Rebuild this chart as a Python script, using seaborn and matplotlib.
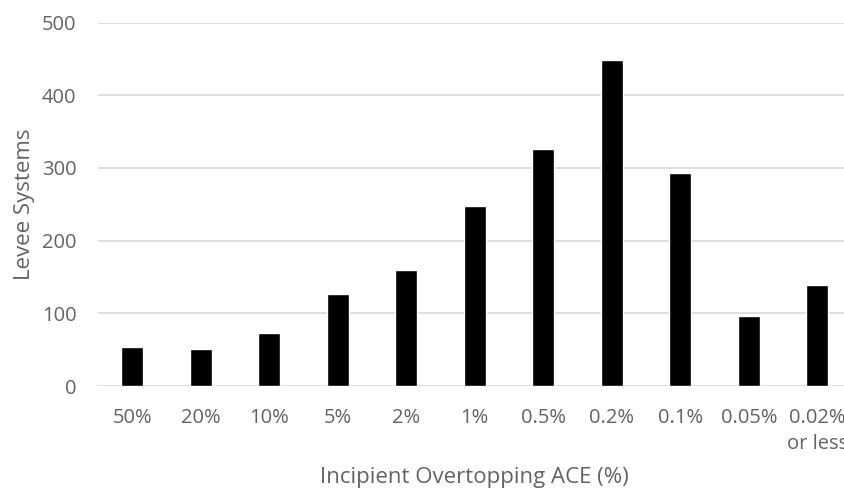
import pandas as pd
import matplotlib.pyplot as plt
import seaborn as sns

# data
categories = ["50%", "20%", "10%", "5%", "2%", "1%", "0.5%", "0.2%", "0.1%", "0.05%", "0.02%\nor less"]
levee_counts = [53, 51, 73, 127, 160, 248, 326, 449, 293, 96, 139]
y_ticks = [0, 100, 200, 300, 400, 500]

df = pd.DataFrame({"ace": categories, "count": levee_counts})

sns.set_theme(style="white")
plt.rcParams["font.family"] = ["Open Sans", "DejaVu Sans"]

TEXT = "#636363"
GRID = "#d9d9d9"

fig = plt.figure(figsize=(8.44, 4.92), dpi=100)
ax = fig.add_axes([0.116, 0.2154, 0.893, 0.7388])

sns.barplot(data=df, x="ace", y="count", ax=ax, color="black",
            width=0.32, saturation=1, zorder=3)

ax.set_ylim(0, 500)
ax.set_yticks(y_ticks)
ax.set_xlim(-0.5, len(categories) - 0.5)
for y in y_ticks:
    ax.axhline(y, color=GRID, linewidth=1.2, zorder=1)

for s in ax.spines.values():
    s.set_visible(False)
ax.tick_params(axis="both", length=0, labelsize=14.5, labelcolor=TEXT)
ax.tick_params(axis="x", pad=15.5)
ax.tick_params(axis="y", pad=15.5)
for lbl in ax.get_xticklabels():
    lbl.set_linespacing(1.4)

ax.set_xlabel("Incipient Overtopping ACE (%)", fontsize=16, color=TEXT, labelpad=10)
ax.set_ylabel("Levee Systems", fontsize=16, color=TEXT, labelpad=5)

fig.savefig("out.png", dpi=100)
plt.close(fig)
